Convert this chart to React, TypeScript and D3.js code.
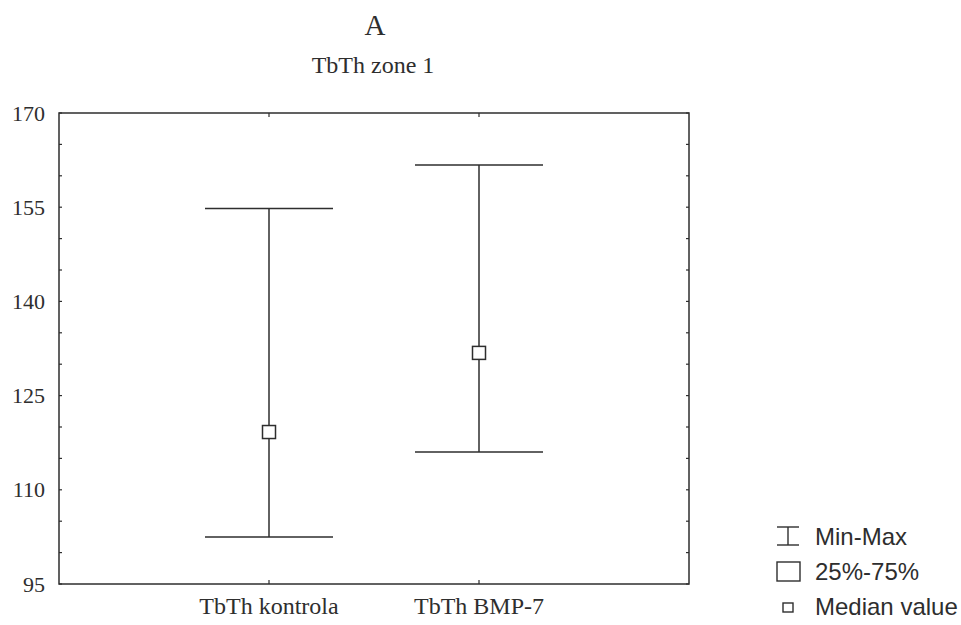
import React from "react";
import * as d3 from "d3";

const categories = ["TbTh kontrola", "TbTh BMP-7"];
const minValues = [102.5, 116.0];
const maxValues = [154.8, 161.7];
const medianValues = [119.2, 131.8];
const yTicks = [95, 110, 125, 140, 155, 170];
const legendLabels = ["Min-Max", "25%-75%", "Median value"];

const W = 961;
const H = 625;
const left = 59, right = 689, top = 113, bottom = 584;
const ink = "#2e2e2e";
const serif = "Liberation Serif, 'Times New Roman', serif";

export default function App() {
  const y = d3.scaleLinear().domain([95, 170]).range([bottom, top]);
  const x = d3.scalePoint<string>().domain(categories).range([left, right]).padding(1);
  const minor = d3.range(95, 170.01, 5);
  const capHalf = 64;
  const med = 13;

  return (
    <svg width={W} height={H} style={{ position: "absolute", left: 0, top: 0, background: "#fff" }}>
      <rect x={0} y={0} width={W} height={H} fill="#fff" />
      <text x={375} y={35} textAnchor="middle" fontFamily={serif} fontSize={29} fill={ink}>A</text>
      <text x={373} y={73} textAnchor="middle" fontFamily={serif} fontSize={24} fill={ink}>TbTh zone 1</text>

      <rect x={left} y={top} width={right - left} height={bottom - top} fill="none" stroke={ink} strokeWidth={1.5} />
      {minor.map((v) => (
        <g key={v}>
          <line x1={left} x2={left + 3} y1={y(v)} y2={y(v)} stroke={ink} strokeWidth={1.2} />
          <line x1={right - 3} x2={right} y1={y(v)} y2={y(v)} stroke={ink} strokeWidth={1.2} />
        </g>
      ))}
      {yTicks.map((v) => (
        <text key={v} x={45} y={y(v) + 7.5} textAnchor="end" fontFamily={serif} fontSize={22} fill={ink}>{v}</text>
      ))}
      {categories.map((c) => (
        <g key={c}>
          <line x1={x(c)!} x2={x(c)!} y1={bottom} y2={bottom - 4} stroke={ink} strokeWidth={1.2} />
          <line x1={x(c)!} x2={x(c)!} y1={top} y2={top + 4} stroke={ink} strokeWidth={1.2} />
          <text x={x(c)!} y={614} textAnchor="middle" fontFamily={serif} fontSize={24} fill={ink}>{c}</text>
        </g>
      ))}

      {categories.map((c, i) => {
        const cx = x(c)!;
        return (
          <g key={c} stroke={ink} strokeWidth={1.5}>
            <line x1={cx} x2={cx} y1={y(maxValues[i])} y2={y(minValues[i])} />
            <line x1={cx - capHalf} x2={cx + capHalf} y1={y(maxValues[i])} y2={y(maxValues[i])} />
            <line x1={cx - capHalf} x2={cx + capHalf} y1={y(minValues[i])} y2={y(minValues[i])} />
            <rect x={cx - med / 2} y={y(medianValues[i]) - med / 2} width={med} height={med} fill="#fff" />
          </g>
        );
      })}

      <g stroke={ink} strokeWidth={1.4} fill="#fff">
        <line x1={788} x2={788} y1={527} y2={545} />
        <line x1={777} x2={799} y1={527} y2={527} />
        <line x1={777} x2={799} y1={545} y2={545} />
        <rect x={777} y={562} width={23} height={19} />
        <rect x={783} y={603} width={10} height={9} />
      </g>
      {legendLabels.map((l, i) => (
        <text key={l} x={815} y={545 + i * 35} fontFamily="Liberation Sans, Arial, sans-serif" fontSize={24} fill={ink}>{l}</text>
      ))}
    </svg>
  );
}
